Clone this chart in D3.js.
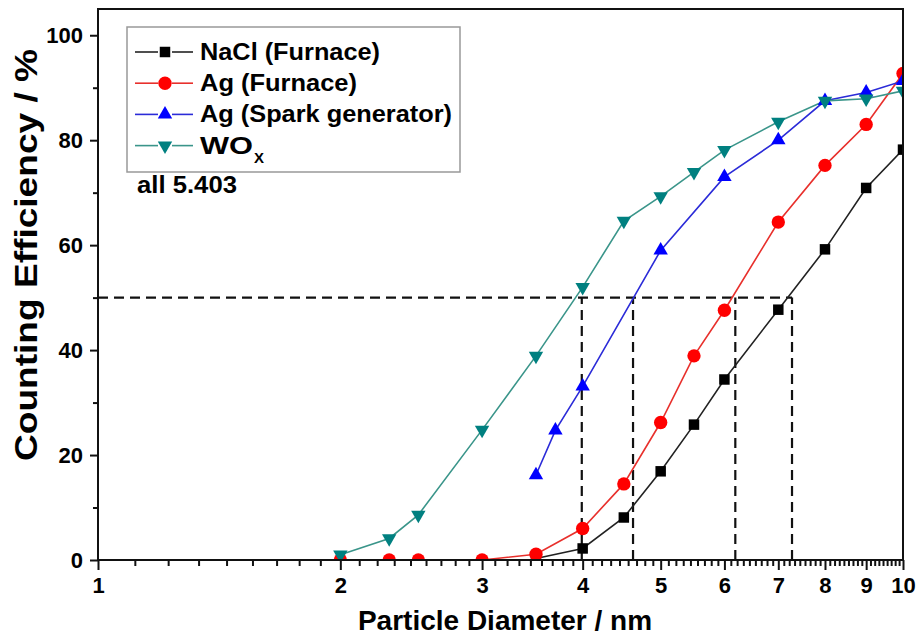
<!DOCTYPE html>
<html><head><meta charset="utf-8">
<script src="https://cdn.jsdelivr.net/npm/d3@7"></script>
<style>
body{margin:0;background:#fff}
svg{display:block}
text{font-family:Arial,"Liberation Sans",sans-serif;font-weight:bold;fill:#000}
</style>
</head><body>
<svg id="chart" width="920" height="635"></svg>
<script>
// ---- data ----
const naclX = [3.5, 4, 4.5, 5, 5.5, 6, 7, 8, 9, 10];
const naclY = [0.3, 2.2, 8.1, 16.9, 25.8, 34.4, 47.7, 59.2, 70.9, 78.2];
const agFurnaceX = [2, 2.3, 2.5, 3, 3.5, 4, 4.5, 5, 5.5, 6, 7, 8, 9, 10];
const agFurnaceY = [0, 0, 0, 0, 1.1, 6.0, 14.5, 26.2, 38.9, 47.6, 64.4, 75.2, 83.0, 92.7];
const agSparkX = [3.5, 3.7, 4, 5, 6, 7, 8, 9, 10];
const agSparkY = [16.2, 24.7, 33.1, 59.0, 73.0, 80.0, 87.5, 89.1, 91.3];
const woxX = [2, 2.3, 2.5, 3, 3.5, 4, 4.5, 5, 5.5, 6, 7, 8, 9, 10];
const woxY = [1.0, 4.1, 8.6, 24.8, 38.9, 52.0, 64.6, 69.3, 73.9, 78.1, 83.5, 87.5, 87.9, 89.4];
const d50Values = [3.99, 4.62, 6.19, 7.28];
const d50Level = 50;
const seriesNames = ["NaCl (Furnace)", "Ag (Furnace)", "Ag (Spark generator)", "WO"];
const xTickValues = [1, 2, 3, 4, 5, 6, 7, 8, 9, 10];
const yTickValues = [0, 20, 40, 60, 80, 100];
const yMinorValues = [10, 30, 50, 70, 90];
const annotation = "all 5.403";
const xTitle = "Particle Diameter / nm";
const yTitle = "Counting Efficiency / %";

// ---- layout ----
const L = 98, R = 903, T = 9, B = 560;
const svg = d3.select("#chart");
const x = d3.scaleLog().domain([1, 10]).range([L, R]);
const y = d3.scaleLinear().domain([0, 105]).range([B, T]);

// minor ticks for log axis: 8 linear subdivisions between majors
const xMinor = [];
for (let k = 1; k < 10; k++) for (let j = 1; j <= 8; j++) xMinor.push(k + j / 9);

// axes
const gx = svg.append("g").attr("transform", `translate(0,${B})`);
gx.call(d3.axisBottom(x).tickValues(xMinor).tickSize(6).tickFormat(""));
gx.append("g").call(d3.axisBottom(x).tickValues(xTickValues).tickSize(10).tickPadding(7).tickFormat(d3.format("d")));
gx.selectAll(".domain").remove();
gx.selectAll("line").attr("stroke", "#111").attr("stroke-width", 2);
gx.selectAll("text").attr("font-size", 22).attr("font-family", null).attr("fill", "#000");

const gy = svg.append("g").attr("transform", `translate(${L},0)`);
gy.call(d3.axisLeft(y).tickValues(yMinorValues).tickSize(5).tickFormat(""));
gy.append("g").call(d3.axisLeft(y).tickValues(yTickValues).tickSize(8).tickPadding(7));
gy.selectAll(".domain").remove();
gy.selectAll("line").attr("stroke", "#111").attr("stroke-width", 2);
gy.selectAll("text").attr("font-size", 22).attr("font-family", null).attr("fill", "#000");

// clip
svg.append("clipPath").attr("id", "plotclip").append("rect")
  .attr("x", L).attr("y", T).attr("width", R - L).attr("height", B - T);
const plot = svg.append("g").attr("clip-path", "url(#plotclip)");

// d50 dashed guides
const dash = plot.append("g").attr("stroke", "#111").attr("stroke-width", 2.2).attr("stroke-dasharray", "10,6").attr("fill", "none");
dash.append("line").attr("x1", x(1)).attr("x2", x(d3.max(d50Values))).attr("y1", y(d50Level)).attr("y2", y(d50Level));
dash.selectAll("line.v").data(d50Values).join("line").attr("class", "v")
  .attr("x1", d => x(d)).attr("x2", d => x(d)).attr("y1", y(0)).attr("y2", y(d50Level));

// series
const series = [
  {xs: naclX, ys: naclY, color: "#000000", line: "#222222", sym: d3.symbolSquare, size: 110, rot: 0},
  {xs: agFurnaceX, ys: agFurnaceY, color: "#ff0000", line: "#e8302c", sym: d3.symbolCircle, size: 140, rot: 0},
  {xs: agSparkX, ys: agSparkY, color: "#0000ff", line: "#2b2bd8", sym: d3.symbolTriangle, size: 90, rot: 0},
  {xs: woxX, ys: woxY, color: "#008080", line: "#3a958a", sym: d3.symbolTriangle, size: 90, rot: 180}
];
const lineGen = d3.line().x(d => x(d[0])).y(d => y(d[1]));
series.forEach(s => {
  const pts = s.xs.map((v, i) => [v, s.ys[i]]);
  plot.append("path").datum(pts).attr("d", lineGen).attr("fill", "none")
    .attr("stroke", s.line).attr("stroke-width", 1.6);
});
series.forEach(s => {
  const pts = s.xs.map((v, i) => [v, s.ys[i]]);
  plot.append("g").selectAll("path").data(pts).join("path")
    .attr("d", d3.symbol().type(s.sym).size(s.size))
    .attr("transform", d => `translate(${x(d[0])},${y(d[1])}) rotate(${s.rot})`)
    .attr("fill", s.color);
});

// frame
svg.append("rect").attr("x", L).attr("y", T).attr("width", R - L).attr("height", B - T)
  .attr("fill", "none").attr("stroke", "#111").attr("stroke-width", 2);

// legend
const legendWidths = [180, 157, 252, 53];
const lg = svg.append("g");
lg.append("rect").attr("x", 127).attr("y", 27).attr("width", 333).attr("height", 145)
  .attr("fill", "#fff").attr("stroke", "#999").attr("stroke-width", 1.5);
series.forEach((s, i) => {
  const cy = 52 + i * 31.2;
  lg.append("line").attr("x1", 135).attr("x2", 158).attr("y1", cy).attr("y2", cy).attr("stroke", s.line).attr("stroke-width", 1.6);
  lg.append("line").attr("x1", 172).attr("x2", 193).attr("y1", cy).attr("y2", cy).attr("stroke", s.line).attr("stroke-width", 1.6);
  lg.append("path").attr("d", d3.symbol().type(s.sym).size(s.size))
    .attr("transform", `translate(165,${cy}) rotate(${s.rot})`).attr("fill", s.color);
  const t = lg.append("text").attr("x", 200).attr("y", cy + 8).attr("font-size", 24);
  t.append("tspan").attr("textLength", legendWidths[i]).attr("lengthAdjust", "spacingAndGlyphs").text(seriesNames[i]);
  if (i === 3) t.append("tspan").attr("font-size", 15).attr("dx", 1).attr("dy", 9).text("X");
});

// annotation
svg.append("text").attr("x", 137).attr("y", 193).attr("font-size", 24).attr("textLength", 100)
  .attr("lengthAdjust", "spacingAndGlyphs").text(annotation);

// axis titles
svg.append("text").attr("x", 505).attr("y", 630).attr("text-anchor", "middle").attr("font-size", 28).text(xTitle);
svg.append("text").attr("transform", "translate(37,255) rotate(-90)").attr("text-anchor", "middle")
  .attr("font-size", 31).attr("textLength", 412).attr("lengthAdjust", "spacingAndGlyphs").text(yTitle);
</script>
</body></html>
